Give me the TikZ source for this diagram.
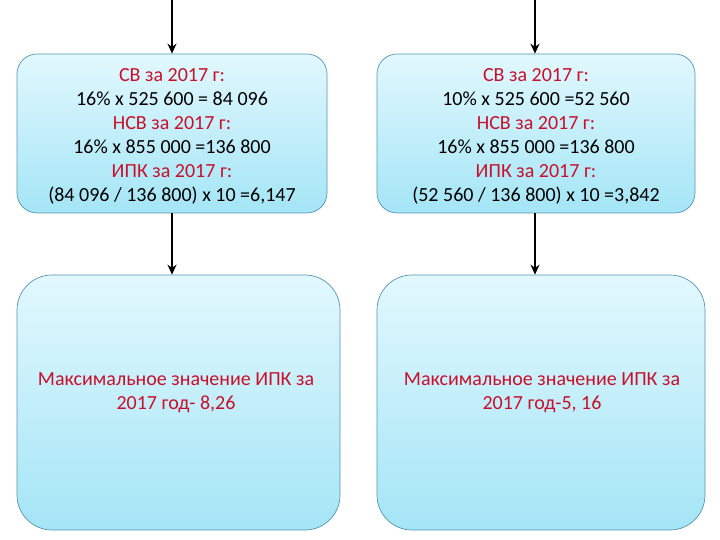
\documentclass[tikz,border=0pt]{standalone}
\usepackage{fontspec}
\setmainfont{Carlito}
\usetikzlibrary{positioning,arrows.meta}
\definecolor{boxtop}{HTML}{E2F8FE}
\definecolor{boxbot}{HTML}{A4E5F6}
\definecolor{boxline}{HTML}{5595B0}
\definecolor{hd}{HTML}{C8102A}
\tikzset{
  calcbox/.style={draw=boxline,line width=0.7pt,rounded corners=20pt,top color=boxtop,bottom color=boxbot,
    minimum height=159pt},
  resbox/.style={draw=boxline,line width=0.7pt,rounded corners=35pt,top color=boxtop,bottom color=boxbot,
    minimum height=255pt},
  calctext/.style={align=center,font=\fontsize{20}{24}\selectfont,inner sep=0pt},
  restext/.style={text=hd,align=center,font=\fontsize{20}{24}\selectfont},
  flow/.style={line width=2.6pt,-{Stealth[length=10pt,width=9pt]}}
}
\begin{document}
\begin{tikzpicture}[x=1pt,y=-1pt]
\useasboundingbox (0,0) rectangle (720,540);
\coordinate (inL) at (172,0);
\coordinate (inR) at (535,0);
\node [calcbox,minimum width=310pt] (tl) at (172,133.5) {};
\node [calcbox,minimum width=318pt] (tr) at (536,133.5) {};
\node [calctext] (tlt) at (172,136) {{\color{hd}СВ за 2017 г:}\\16\% x 525 600 = 84 096\\{\color{hd}НСВ за 2017 г:}\\16\% x 855 000 =136 800\\{\color{hd}ИПК за 2017 г:}\\(84 096 / 136 800) x 10 =6,147};
\node [calctext] (trt) at (536,136) {{\color{hd}СВ за 2017 г:}\\10\% x 525 600 =52 560\\{\color{hd}НСВ за 2017 г:}\\16\% x 855 000 =136 800\\{\color{hd}ИПК за 2017 г:}\\(52 560 / 136 800) x 10 =3,842};
\node [resbox,minimum width=323pt] (bl) at (178.5,402.5) {};
\node [resbox,minimum width=328pt] (br) at (541,402.5) {};
\node [restext] (blt) at (176,393) {Максимальное значение ИПК за\\2017 год- 8,26};
\node [restext] (brt) at (542,393) {Максимальное значение ИПК за\\2017 год-5, 16};
\draw[flow] (inL) -- (inL |- tl.north);
\draw[flow] (inR) -- (inR |- tr.north);
\draw[flow] (inL |- tl.south) -- (inL |- bl.north);
\draw[flow] (inR |- tr.south) -- (inR |- br.north);
\end{tikzpicture}
\end{document}
